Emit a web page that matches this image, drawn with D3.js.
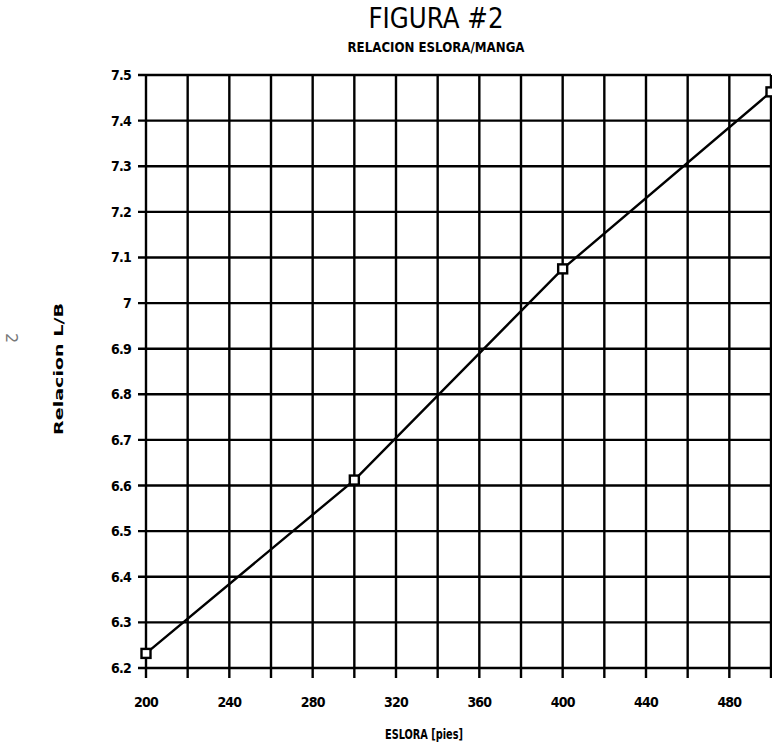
<!DOCTYPE html>
<html><head><meta charset="utf-8">
<script src="https://cdn.jsdelivr.net/npm/d3@7"></script>
<style>body{margin:0;background:#fff}svg{display:block}</style>
</head><body>
<svg id="c" width="772" height="755"></svg>
<script>
const eslora = [200, 300, 400, 500];
const relacion = [6.232, 6.612, 7.075, 7.463];
const xTickValues = [200, 240, 280, 320, 360, 400, 440, 480];
const xGridValues = [200, 220, 240, 260, 280, 300, 320, 340, 360, 380, 400, 420, 440, 460, 480, 500];
const yTickValues = [6.2, 6.3, 6.4, 6.5, 6.6, 6.7, 6.8, 6.9, 7.0, 7.1, 7.2, 7.3, 7.4, 7.5];
const yTickLabels = ["6.2", "6.3", "6.4", "6.5", "6.6", "6.7", "6.8", "6.9", "7", "7.1", "7.2", "7.3", "7.4", "7.5"];

const svg = d3.select("#c");
const narrow = "'Liberation Sans Narrow', 'DejaVu Sans Condensed', 'Liberation Sans', sans-serif";
const x = d3.scaleLinear().domain([200, 500]).range([146, 771]);
const y = d3.scaleLinear().domain([6.2, 7.5]).range([668, 75]);

// grid
const g = svg.append("g").attr("stroke", "#000").attr("stroke-width", 2.4);
g.selectAll(".vx").data(xGridValues).join("line")
  .attr("x1", d => x(d)).attr("x2", d => x(d)).attr("y1", y(7.5)).attr("y2", y(6.2) + 10);
g.selectAll(".hy").data(yTickValues).join("line")
  .attr("x1", x(200) - 8).attr("x2", x(500)).attr("y1", d => y(d)).attr("y2", d => y(d));

// y labels
svg.append("g").selectAll("text").data(yTickValues).join("text")
  .attr("x", 131).attr("y", d => y(d) + 5)
  .attr("text-anchor", "end")
  .attr("font-family", narrow).attr("font-weight", "bold").attr("font-size", 14)
  .attr("letter-spacing", -0.8)
  .text((d, i) => yTickLabels[i]);

// x labels
svg.append("g").selectAll("text").data(xTickValues).join("text")
  .attr("x", d => x(d)).attr("y", 707)
  .attr("text-anchor", "middle")
  .attr("font-family", narrow).attr("font-weight", "bold").attr("font-size", 14)
  .attr("letter-spacing", -0.8)
  .text(d => d);

// line
const line = d3.line().x(d => x(d[0])).y(d => y(d[1]));
const pts = eslora.map((e, i) => [e, relacion[i]]);
svg.append("path").datum(pts).attr("d", line)
  .attr("fill", "none").attr("stroke", "#000").attr("stroke-width", 2.4);

// markers
svg.append("g").selectAll("rect").data(pts).join("rect")
  .attr("x", d => x(d[0]) - 4.5).attr("y", d => y(d[1]) - 4.5)
  .attr("width", 9).attr("height", 9)
  .attr("fill", "#fff").attr("stroke", "#000").attr("stroke-width", 2.4);

// titles
svg.append("text").attr("x", 436).attr("y", 28).attr("text-anchor", "middle")
  .attr("font-family", narrow).attr("font-size", 28)
  .attr("textLength", 135).attr("lengthAdjust", "spacingAndGlyphs")
  .text("FIGURA #2");
svg.append("text").attr("x", 436).attr("y", 52).attr("text-anchor", "middle")
  .attr("font-family", narrow).attr("font-weight", "bold").attr("font-size", 14)
  .attr("textLength", 177).attr("lengthAdjust", "spacingAndGlyphs")
  .text("RELACION ESLORA/MANGA");
svg.append("text").attr("x", 424).attr("y", 739).attr("text-anchor", "middle")
  .attr("font-family", narrow).attr("font-weight", "bold").attr("font-size", 14)
  .attr("textLength", 78).attr("lengthAdjust", "spacingAndGlyphs")
  .text("ESLORA [pies]");
svg.append("text").attr("transform", "translate(63,369) rotate(-90)")
  .attr("text-anchor", "middle")
  .attr("font-family", "'DejaVu Sans', sans-serif").attr("font-weight", "bold").attr("font-size", 13)
  .attr("textLength", 132).attr("lengthAdjust", "spacingAndGlyphs")
  .text("Relacion L/B");
svg.append("text").attr("transform", "translate(6,338) rotate(90)")
  .attr("text-anchor", "middle")
  .attr("font-family", "'DejaVu Sans', sans-serif").attr("font-size", 16)
  .attr("fill", "#777")
  .text("2");
</script>
</body></html>
